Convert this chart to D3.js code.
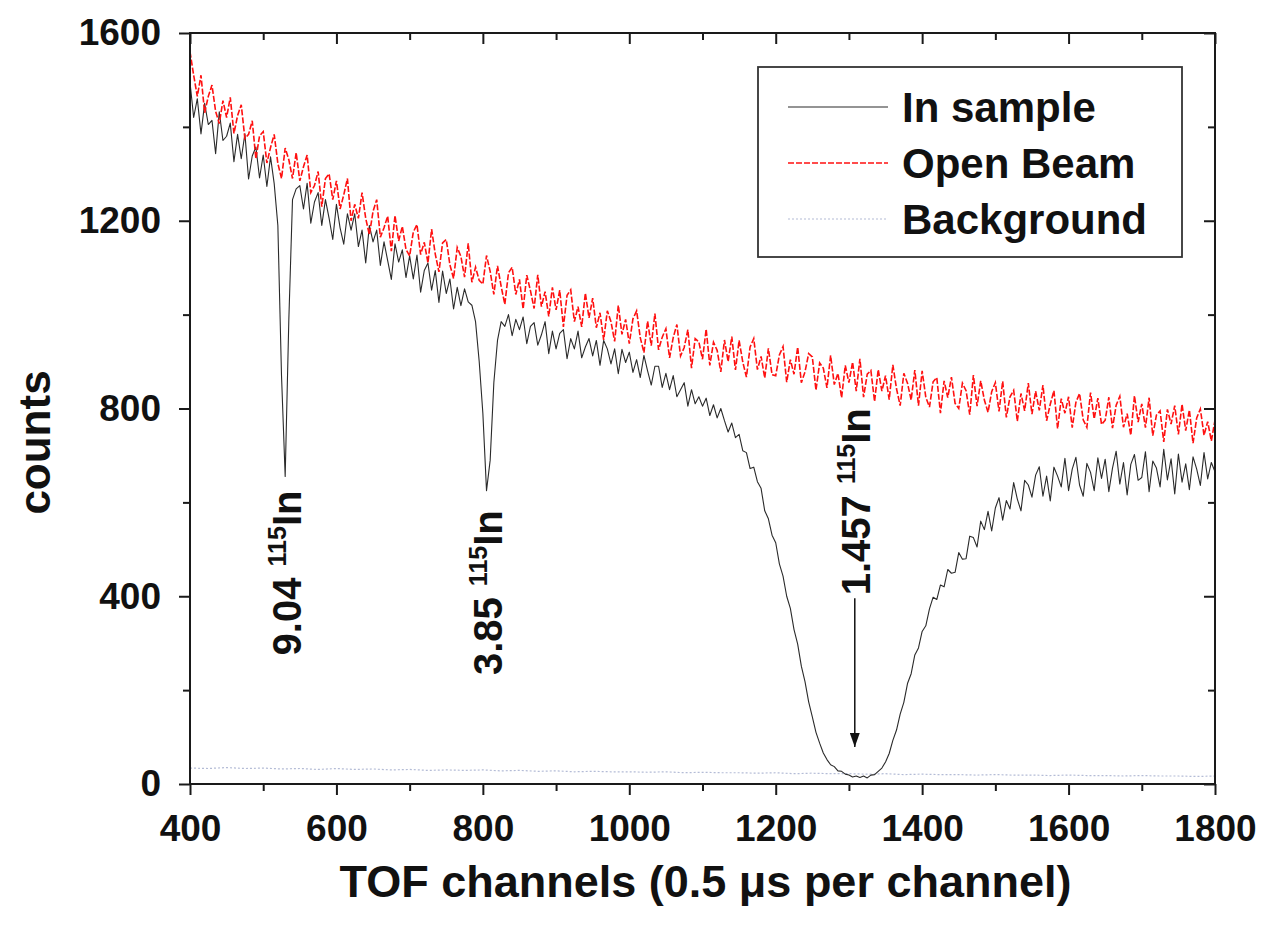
<!DOCTYPE html>
<html><head><meta charset="utf-8">
<script src="https://cdn.jsdelivr.net/npm/d3@7"></script>
<style>
html,body{margin:0;padding:0;background:#fff;}
svg{display:block;}
text{font-family:"Liberation Sans",Arial,Helvetica,sans-serif;font-weight:bold;fill:#111;}
</style></head><body>
<svg id="chart" width="1262" height="929"></svg>
<script>
// ---------- data ----------
const xTicks = [400, 600, 800, 1000, 1200, 1400, 1600, 1800];
const xMinorTicks = [500, 700, 900, 1100, 1300, 1500, 1700];
const yTicks = [0, 400, 800, 1200, 1600];
const yMinorTicks = [200, 600, 1000, 1400];
const xTitle = "TOF channels (0.5 \u03bcs per channel)";
const yTitle = "counts";
const seriesNames = ["In sample", "Open Beam", "Background"];

const channelStart = 400, channelStep = 5;   // sampled TOF channels 400..1800
const inSample = [
 1495,1420,1460,1385,1450,1405,1414,1343,1432,1371,
 1380,1408,1326,1384,1332,1385,1289,1338,1357,1291,
 1340,1273,1336,1279,1190,
 870,655,990,1245,1268,
 1275,1225,1280,1195,1240,1260,1190,1245,1205,1160,
 1235,1185,1150,1215,1180,1215,1145,1180,1110,1190,
 1155,1180,1105,1155,1115,1075,1151,1112,1138,1079,
 1125,1076,1127,1048,1094,1110,1052,1094,1026,1093,
 1045,1076,1012,1058,1019,1055,1027,
 1020,985,900,790,625,690,855,945,985,
 975,1000,955,990,
 968,995,938,975,983,935,957,985,917,965,
 927,960,968,906,949,927,965,908,931,949,
 912,945,892,945,927,895,927,874,926,898,
 920,877,904,866,913,880,850,890,890,845,
 875,840,870,825,840,855,805,840,810,825,
 805,822,785,808,780,800,774,750,769,738,
 745,710,706,672,675,644,630,582,565,530,
 514,469,443,400,374,329,298,251,218,175,
 143,110,87,66,52,41,37,28,27,21,
 19,15,17,14,17,13,19,20,27,34,
 47,65,93,115,149,174,214,235,275,290,
 325,337,373,398,393,424,420,457,449,451,
 493,479,480,528,525,505,560,542,581,539,
 588,610,562,604,586,642,607,582,647,637,
 611,658,676,613,656,603,675,656,633,694,
 625,671,696,637,613,683,664,625,695,651,
 692,623,673,709,639,685,616,681,702,647,
 653,708,623,688,673,633,713,648,693,618,
 703,643,682,627,697,671,636,706,650,685,
 665
];
const openBeam = [
 1560,1510,1465,1510,1430,1465,1489,1433,1407,1456,
 1420,1463,1386,1424,1447,1375,1384,1413,1332,1381,
 1390,1323,1356,1384,1322,1290,1355,1330,1290,1345,
 1285,1315,1340,1260,1275,1305,1230,1290,1300,1245,
 1285,1225,1255,1290,1200,1235,1205,1260,1205,1170,
 1220,1245,1165,1185,1210,1135,1211,1157,1188,1139,
 1125,1176,1192,1128,1154,1110,1182,1129,1091,1153,
 1160,1106,1077,1143,1124,1080,1152,1069,1101,1073,
 1065,1126,1092,1043,1104,1060,1022,1089,1101,1043,
 1075,1012,1084,1051,1013,1085,1017,1049,996,1058,
 1010,1052,974,1041,1053,985,1017,974,1046,993,
 1035,972,1004,946,1008,985,943,1020,958,990,
 938,991,1008,951,919,986,934,1002,925,952,
 970,908,951,979,912,930,968,886,949,942,
 905,969,892,941,924,878,946,900,953,882,
 945,899,867,931,949,883,911,865,928,872,
 870,914,932,856,904,873,931,855,878,917,
 910,839,897,886,844,913,851,875,823,892,
 855,899,837,906,824,873,881,815,883,837,
 870,819,893,842,806,875,854,818,882,806,
 880,824,803,857,866,790,859,823,867,811,
 800,854,838,787,871,805,859,818,792,836,
 855,794,858,781,825,839,773,832,795,854,
 788,837,796,850,774,809,838,757,821,790,
 825,759,813,832,776,760,834,778,822,766,
 775,824,758,807,826,760,789,743,827,771,
 810,759,823,742,786,795,729,798,767,806,
 745,809,753,797,726,780,799,743,772,731,
 775
];
const bgStart = 400, bgStep = 25;
const background = [
 34,33,35,33,34,32,33,31,33,31,32,30,31,29,30,29,30,28,29,27,
 28,26,27,26,26,25,26,24,25,24,24,23,24,22,23,22,22,21,22,20,
 21,20,20,19,20,19,19,18,19,18,18,17,18,17,17,16,17
];
const peakLabels = [
  {energy: "9.04",  mass: "115", element: "In", channel: 531,  labelCount: 274},
  {energy: "3.85",  mass: "115", element: "In", channel: 806,  labelCount: 232},
  {energy: "1.457", mass: "115", element: "In", channel: 1308, labelCount: 402}
];
const arrowMark = {channel: 1308, fromCount: 396, toCount: 79};

// ---------- chart ----------
const svg = d3.select("#chart");
const L = 190, R = 1215, T = 33, B = 784;
const x = d3.scaleLinear().domain([400, 1800]).range([L, R]);
const y = d3.scaleLinear().domain([0, 1600]).range([B, T]);

const toPts = (arr, start, step) => arr.map((v, i) => [start + i * step, v]);
const line = d3.line().x(d => x(d[0])).y(d => y(d[1]));

svg.append("defs").append("clipPath").attr("id", "clip")
  .append("rect").attr("x", L).attr("y", T).attr("width", R - L).attr("height", B - T);

const plot = svg.append("g").attr("clip-path", "url(#clip)");

const styles = {
  "In sample": {stroke: "#2a2a2a", width: 1.1, dash: null},
  "Open Beam": {stroke: "#ff1010", width: 1.6, dash: "6,2"},
  "Background": {stroke: "#b4bcd6", width: 1.2, dash: "2,2"}
};

plot.append("path").datum(toPts(background, bgStart, bgStep))
  .attr("d", line).attr("fill", "none")
  .attr("stroke", styles.Background.stroke).attr("stroke-width", styles.Background.width)
  .attr("stroke-dasharray", styles.Background.dash);
plot.append("path").datum(toPts(inSample, channelStart, channelStep))
  .attr("d", line).attr("fill", "none")
  .attr("stroke", styles["In sample"].stroke).attr("stroke-width", styles["In sample"].width)
  .attr("stroke-linejoin", "round");
plot.append("path").datum(toPts(openBeam, channelStart, channelStep))
  .attr("d", line).attr("fill", "none")
  .attr("stroke", styles["Open Beam"].stroke).attr("stroke-width", styles["Open Beam"].width)
  .attr("stroke-dasharray", styles["Open Beam"].dash);

// ---------- axes ----------
function styleAxis(g) {
  g.select(".domain").remove();
  g.selectAll(".tick line").attr("stroke", "#1a1a1a").attr("stroke-width", 2);
}
const fmt = d3.format("d");
svg.append("g").attr("transform", `translate(0,${B})`)
  .call(d3.axisBottom(x).tickValues(xTicks).tickSize(11).tickPadding(20).tickFormat(fmt))
  .call(styleAxis)
  .selectAll("text").attr("font-size", 37).attr("fill", "#111")
  .attr("font-family", '"Liberation Sans", Arial, sans-serif').attr("font-weight", "bold");
svg.append("g").attr("transform", `translate(0,${B})`)
  .call(d3.axisBottom(x).tickValues(xMinorTicks).tickSize(7).tickFormat(""))
  .call(styleAxis);
svg.append("g").attr("transform", `translate(0,${T})`)
  .call(d3.axisTop(x).tickValues(xTicks).tickSize(-11).tickFormat(""))
  .call(styleAxis);
svg.append("g").attr("transform", `translate(0,${T})`)
  .call(d3.axisTop(x).tickValues(xMinorTicks).tickSize(-7).tickFormat(""))
  .call(styleAxis);
svg.append("g").attr("transform", `translate(${L},0)`)
  .call(d3.axisLeft(y).tickValues(yTicks).tickSize(11).tickPadding(18).tickFormat(fmt))
  .call(styleAxis)
  .selectAll("text").attr("font-size", 37).attr("fill", "#111")
  .attr("font-family", '"Liberation Sans", Arial, sans-serif').attr("font-weight", "bold");
svg.append("g").attr("transform", `translate(${L},0)`)
  .call(d3.axisLeft(y).tickValues(yMinorTicks).tickSize(7).tickFormat(""))
  .call(styleAxis);
svg.append("g").attr("transform", `translate(${R},0)`)
  .call(d3.axisRight(y).tickValues(yTicks).tickSize(-11).tickFormat(""))
  .call(styleAxis);
svg.append("g").attr("transform", `translate(${R},0)`)
  .call(d3.axisRight(y).tickValues(yMinorTicks).tickSize(-7).tickFormat(""))
  .call(styleAxis);

svg.append("rect").attr("x", L).attr("y", T).attr("width", R - L).attr("height", B - T)
  .attr("fill", "none").attr("stroke", "#1a1a1a").attr("stroke-width", 2);

svg.append("text").attr("x", (L + R) / 2 + 3).attr("y", 897)
  .attr("text-anchor", "middle").attr("font-size", 45).text(xTitle);
svg.append("text").attr("transform", `translate(50,${(T + B) / 2 + 34}) rotate(-90)`)
  .attr("text-anchor", "middle").attr("font-size", 44).text(yTitle);

// ---------- peak annotations ----------
peakLabels.forEach(p => {
  const t = svg.append("text")
    .attr("transform", `translate(${x(p.channel) + 15},${y(p.labelCount)}) rotate(-90)`)
    .attr("font-size", 40);
  t.append("tspan").text(p.energy + " ");
  t.append("tspan").attr("font-size", 25).attr("dy", -15).text(p.mass);
  t.append("tspan").attr("dy", 15).text(p.element);
});
svg.append("defs").append("marker").attr("id", "arrowhead")
  .attr("viewBox", "0 0 10 10").attr("refX", 10).attr("refY", 5)
  .attr("markerWidth", 14).attr("markerHeight", 10).attr("markerUnits", "userSpaceOnUse")
  .attr("orient", "auto").attr("preserveAspectRatio", "none")
  .append("path").attr("d", "M0,0 L10,5 L0,10 Z").attr("fill", "#111");
svg.append("line")
  .attr("x1", x(arrowMark.channel)).attr("x2", x(arrowMark.channel))
  .attr("y1", y(arrowMark.fromCount)).attr("y2", y(arrowMark.toCount))
  .attr("stroke", "#111").attr("stroke-width", 1.5)
  .attr("marker-end", "url(#arrowhead)");

// ---------- legend ----------
const lg = svg.append("g");
lg.append("rect").attr("x", 758).attr("y", 67).attr("width", 424).attr("height", 190)
  .attr("fill", "#fff").attr("stroke", "#333").attr("stroke-width", 1.8);
seriesNames.forEach((name, i) => {
  const cy = 107 + i * 56;
  const s = styles[name];
  lg.append("line").attr("x1", 788).attr("x2", 888).attr("y1", cy).attr("y2", cy)
    .attr("stroke", s.stroke).attr("stroke-width", s.width)
    .attr("stroke-dasharray", s.dash);
  lg.append("text").attr("x", 902).attr("y", cy + 15).attr("font-size", 42).text(name);
});
</script>
</body></html>
